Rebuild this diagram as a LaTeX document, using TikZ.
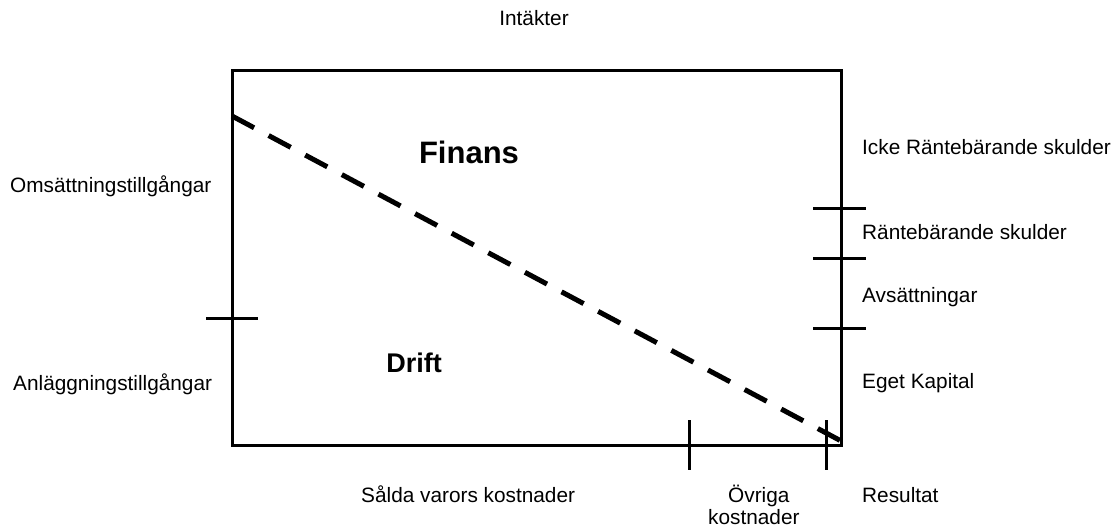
\documentclass[tikz,border=0pt]{standalone}
\usepackage{fontspec}
\setmainfont{Liberation Sans}
\usetikzlibrary{positioning}

\tikzset{
    lbl/.style={anchor=base west, inner sep=0pt, font=\fontsize{20.8}{23}\selectfont},
    big/.style={anchor=base, inner sep=0pt, font=\fontsize{27}{30}\selectfont\bfseries},
    tick/.style={line width=3pt},
}

\begin{document}
\begin{tikzpicture}[x=1pt, y=-1pt]
    \useasboundingbox (0,0) rectangle (1119,529);
    % box corners
    \coordinate (tl) at (232,71);
    \coordinate (br) at (841,445);
    \draw[line width=3pt] (tl) rectangle (br);
    \coordinate (d1) at (232,116);
    \coordinate (d2) at (843,442);
    \draw[line width=5pt, dash pattern=on 25pt off 16.5pt] (d1) -- (d2);
    % ticks
    \draw[tick] (206,319) coordinate (l1) -- (258,319) coordinate (l2);
    \foreach \yy in {209,259,328} \draw[tick] (813,\yy) -- (866,\yy);
    \draw[tick] (689,420) coordinate (b1) -- (689,470) coordinate (b2);
    \draw[tick] (826,420) coordinate (b3) -- (826,470) coordinate (b4);
    % labels
    \node[anchor=base, inner sep=0pt, font=\fontsize{20.8}{23}\selectfont] (intakt) at (534,26) {Intäkter};
    \node[big, font=\fontsize{31}{34}\selectfont\bfseries] (finans) at (469,164) {Finans};
    \node[big] (drift) at (414,372) {Drift};
    \node[lbl] (oms) at (10,193) {Omsättningstillgångar};
    \node[lbl] (anl) at (13,390) {Anläggningstillgångar};
    \node[lbl] (icke) at (862,155) {Icke Räntebärande skulder};
    \node[lbl] (rant) at (862,240) {Räntebärande skulder};
    \node[lbl] (avs) at (862,303) {Avsättningar};
    \node[lbl] (eget) at (862,388) {Eget Kapital};
    \node[lbl] (salda) at (361,502) {Sålda varors kostnader};
    \node[lbl] (ovr) at (728,502) {Övriga};
    \node[lbl] (kost) at (708,524) {kostnader};
    \node[lbl] (res) at (862,502) {Resultat};
\end{tikzpicture}
\end{document}
